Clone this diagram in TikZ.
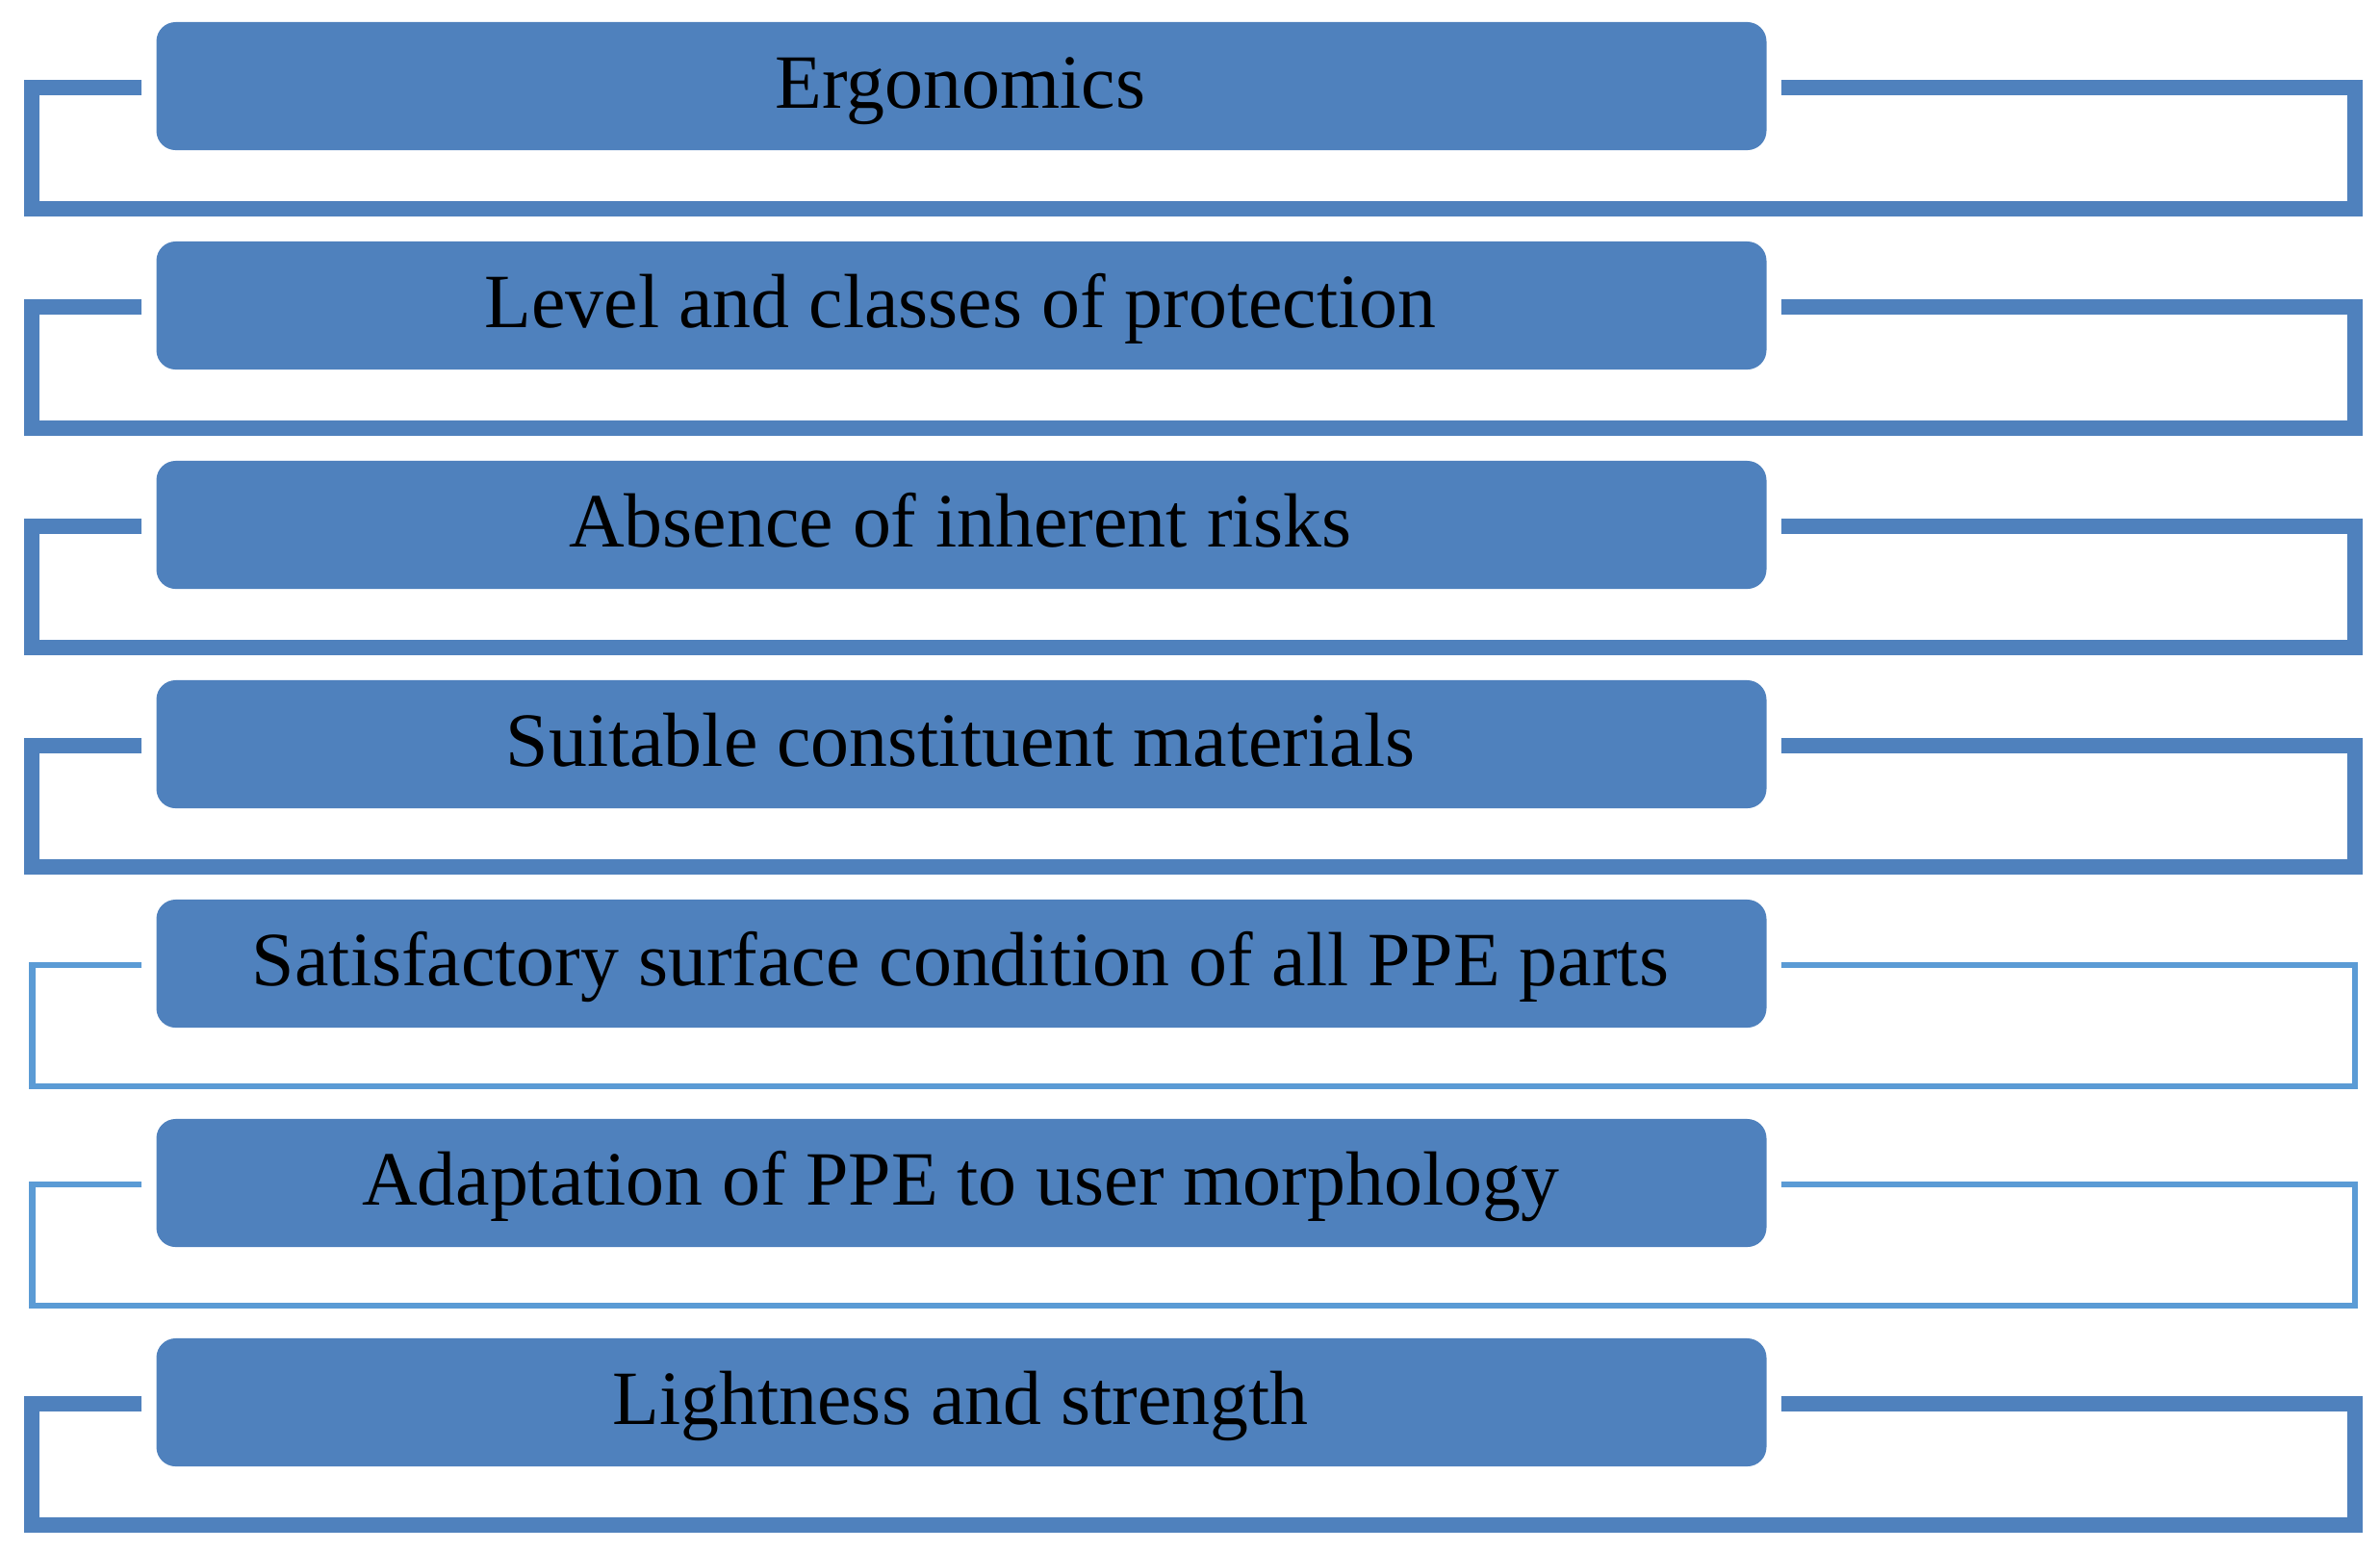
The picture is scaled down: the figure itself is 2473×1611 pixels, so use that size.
\documentclass[tikz,border=0pt]{standalone}
\usepackage{fontspec}
\setmainfont{Liberation Serif}
\usetikzlibrary{calc}
\definecolor{boxblue}{RGB}{79,129,189}
\definecolor{lineblue}{RGB}{91,155,213}
\begin{document}
\begin{tikzpicture}[x=0.01cm,y=-0.01cm,
  itembox/.style={draw=none,fill=boxblue,rounded corners=0.2cm,minimum width=16.72cm,minimum height=1.33cm,inner sep=0pt},
  itemtext/.style={anchor=base,font=\fontsize{22.7pt}{27pt}\selectfont,text=black,inner sep=0pt},
  thickbr/.style={draw=boxblue,line width=0.155cm,line cap=butt,miter limit=10},
  thinbr/.style={draw=lineblue,line width=0.068cm,line cap=butt,miter limit=10}]
\useasboundingbox (0,0) rectangle (2473,1611);
\foreach \i/\t/\s/\lx in {0/Ergonomics/thickbr/33,
  1/Level and classes of protection/thickbr/33,
  2/Absence of inherent risks/thickbr/33,
  3/Suitable constituent materials/thickbr/33,
  4/Satisfactory surface condition of all PPE parts/thinbr/33.5,
  5/Adaptation of PPE to user morphology/thinbr/33.5,
  6/Lightness and strength/thickbr/33}{
  \pgfmathsetmacro{\top}{23+228*\i}
  \pgfmathsetmacro{\bt}{91+228*\i}
  \pgfmathsetmacro{\bb}{217+228*\i}
  \node[itembox] (b\i) at (999,\top+66.5) {};
  \node[itemtext] (t\i) at (998,\top+89) {\t};
  \coordinate (l\i) at (147,\bt);
  \coordinate (r\i) at (1851,\bt);
  \coordinate (bl\i) at (\lx,\bb);
  \coordinate (br\i) at (2447,\bb);
  \draw[\s] (l\i) -| (bl\i) -- (br\i) |- (r\i);
}
\end{tikzpicture}
\end{document}
